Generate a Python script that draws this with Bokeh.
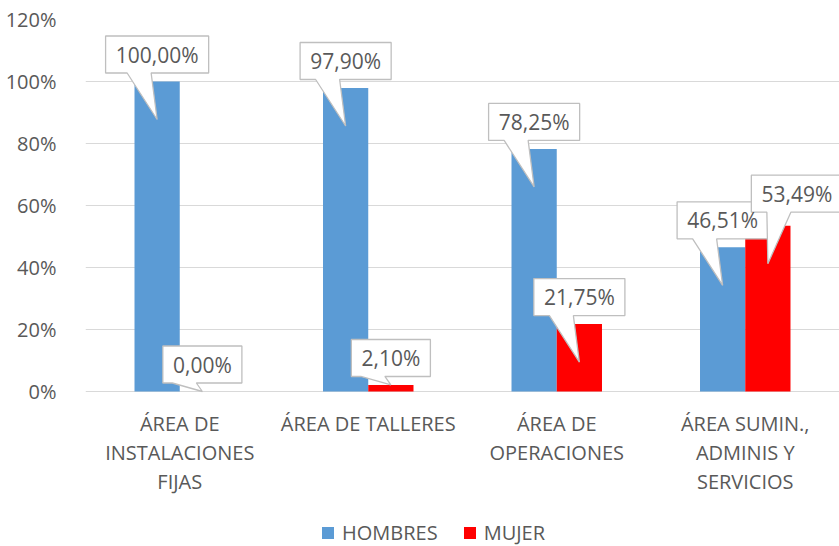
import numpy as np
from bokeh.plotting import figure
from bokeh.models import Range1d, FixedTicker, NumeralTickFormatter, Legend, LegendItem
from bokeh.core.properties import value
from bokeh.embed import file_html
from bokeh.resources import INLINE

# ---- data ----
categories = ["ÁREA DE\nINSTALACIONES\nFIJAS", "ÁREA DE TALLERES",
              "ÁREA DE\nOPERACIONES", "ÁREA SUMIN.,\nADMINIS Y\nSERVICIOS"]
hombres = [1.0000, 0.9790, 0.7825, 0.4651]
mujer = [0.0000, 0.0210, 0.2175, 0.5349]
y_ticks = [0, 0.2, 0.4, 0.6, 0.8, 1.0, 1.2]
series_names = ["HOMBRES", "MUJER"]
series_colors = ["#5B9BD5", "#FF0000"]

# ---- layout ----
W, H = 839, 546
LEFT, TOP = 85, 19
PLOT_H = 372                  # px from 0% to 120%
FW = W - LEFT
FH = H - TOP
FONT = "Open Sans"
GRAY = "#595959"
GRID = "#D9D9D9"
BORDER = "#BFBFBF"

n = len(categories)
XU = n / FW                   # data units per px (x)
YU = 1.2 / PLOT_H             # data units per px (y)
Y0 = -(FH - PLOT_H) * YU      # bottom of frame (below the 0 line)

p = figure(width=W, height=H, output_backend="svg", toolbar_location=None,
           x_range=Range1d(0, n), y_range=Range1d(Y0, 1.2),
           min_border_left=LEFT, min_border_right=0,
           min_border_top=TOP, min_border_bottom=0)
p.outline_line_color = None
p.background_fill_color = "white"
p.border_fill_color = "white"

xc = np.arange(n) + 0.5
bw = 0.24
series = [hombres, mujer]
offsets = [-bw / 2, bw / 2]

renderers = []
for vals, name, col, off in zip(series, series_names, series_colors, offsets):
    r = p.vbar(x=xc + off, top=vals, width=bw, color=col, line_color=None)
    renderers.append(r)

# ---- callouts ----
FS = 21
cw = {",": 0.25, "%": 0.846}


def fmt(v):
    return f"{v * 100:.2f}".replace(".", ",") + "%"


def text_w(s):
    return sum(cw.get(ch, 0.572) for ch in s) * FS


BOX_H = 37
ABOVE = 27
boxes = []
for si, (vals, off) in enumerate(zip(series, offsets)):
    for i, v in enumerate(vals):
        lab = fmt(v)
        bwpx = text_w(lab) + 20
        xb = xc[i] + off
        cx = xb
        cy = v + ABOVE * YU
        if si == 1:
            cy_b = hombres[i] + ABOVE * YU
            if abs(cy - cy_b) < BOX_H * YU:   # avoid overlapping the other callout
                cx = xb + 29 * XU
                cy = cy + 5 * YU
        boxes.append((xb, v, cx, cy, bwpx, lab))

xs, ys, tx, ty, tl = [], [], [], [], []
for xb, v, cx, cy, bwpx, lab in boxes:
    L = cx - bwpx / 2 * XU
    R = cx + bwpx / 2 * XU
    T = cy + BOX_H / 2 * YU
    B = cy - BOX_H / 2 * YU
    tip_y = v - 38 * YU if v > 45 * YU else v
    b1 = cx - 30 * XU
    b2 = cx - 6 * XU
    xs.append([L, R, R, b2, xb, b1, L])
    ys.append([T, T, B, B, tip_y, B, B])
    tx.append(cx)
    ty.append(cy)
    tl.append(lab)

p.patches(xs=xs, ys=ys, fill_color="white", line_color=BORDER, line_width=1.3)
p.text(x=tx, y=ty, text=tl, text_align="center", text_baseline="middle",
       text_font=value(FONT), text_font_size=f"{FS}px", text_color=GRAY)

# ---- category labels (below the 0 line) ----
cx_l, cy_l, ct_l = [], [], []
for x, c in zip(xc, categories):
    for k, line in enumerate(c.split("\n")):
        cx_l.append(x)
        cy_l.append(-(32 + 29 * k) * YU)
        ct_l.append(line)
p.text(x=cx_l, y=cy_l, text=ct_l, text_align="center", text_baseline="middle",
       text_font=value(FONT), text_font_size="20px", text_color=GRAY)

# ---- axes / grid ----
p.xaxis.visible = False
p.xgrid.visible = False
p.ygrid.ticker = FixedTicker(ticks=y_ticks)
p.ygrid.grid_line_color = GRID
p.ygrid.grid_line_width = 1

ya = p.yaxis[0]
ya.ticker = FixedTicker(ticks=y_ticks)
ya.formatter = NumeralTickFormatter(format="0%")
ya.axis_line_color = None
ya.major_tick_line_color = None
ya.minor_tick_line_color = None
ya.major_label_standoff = 23
ya.major_label_text_font = FONT
ya.major_label_text_font_size = "20px"
ya.major_label_text_color = GRAY

# ---- legend ----
leg = Legend(items=[LegendItem(label=nm, renderers=[r])
                    for nm, r in zip(series_names, renderers)])
leg.location = (235, 0)
leg.orientation = "horizontal"
leg.background_fill_alpha = 0
leg.border_line_alpha = 0
leg.glyph_width = 15
leg.glyph_height = 15
leg.label_standoff = 7
leg.spacing = 24
leg.padding = 0
leg.margin = 0
leg.label_text_font = FONT
leg.label_text_font_size = "20px"
leg.label_text_color = GRAY
p.add_layout(leg)

open("out.html", "w").write(file_html(p, INLINE))
